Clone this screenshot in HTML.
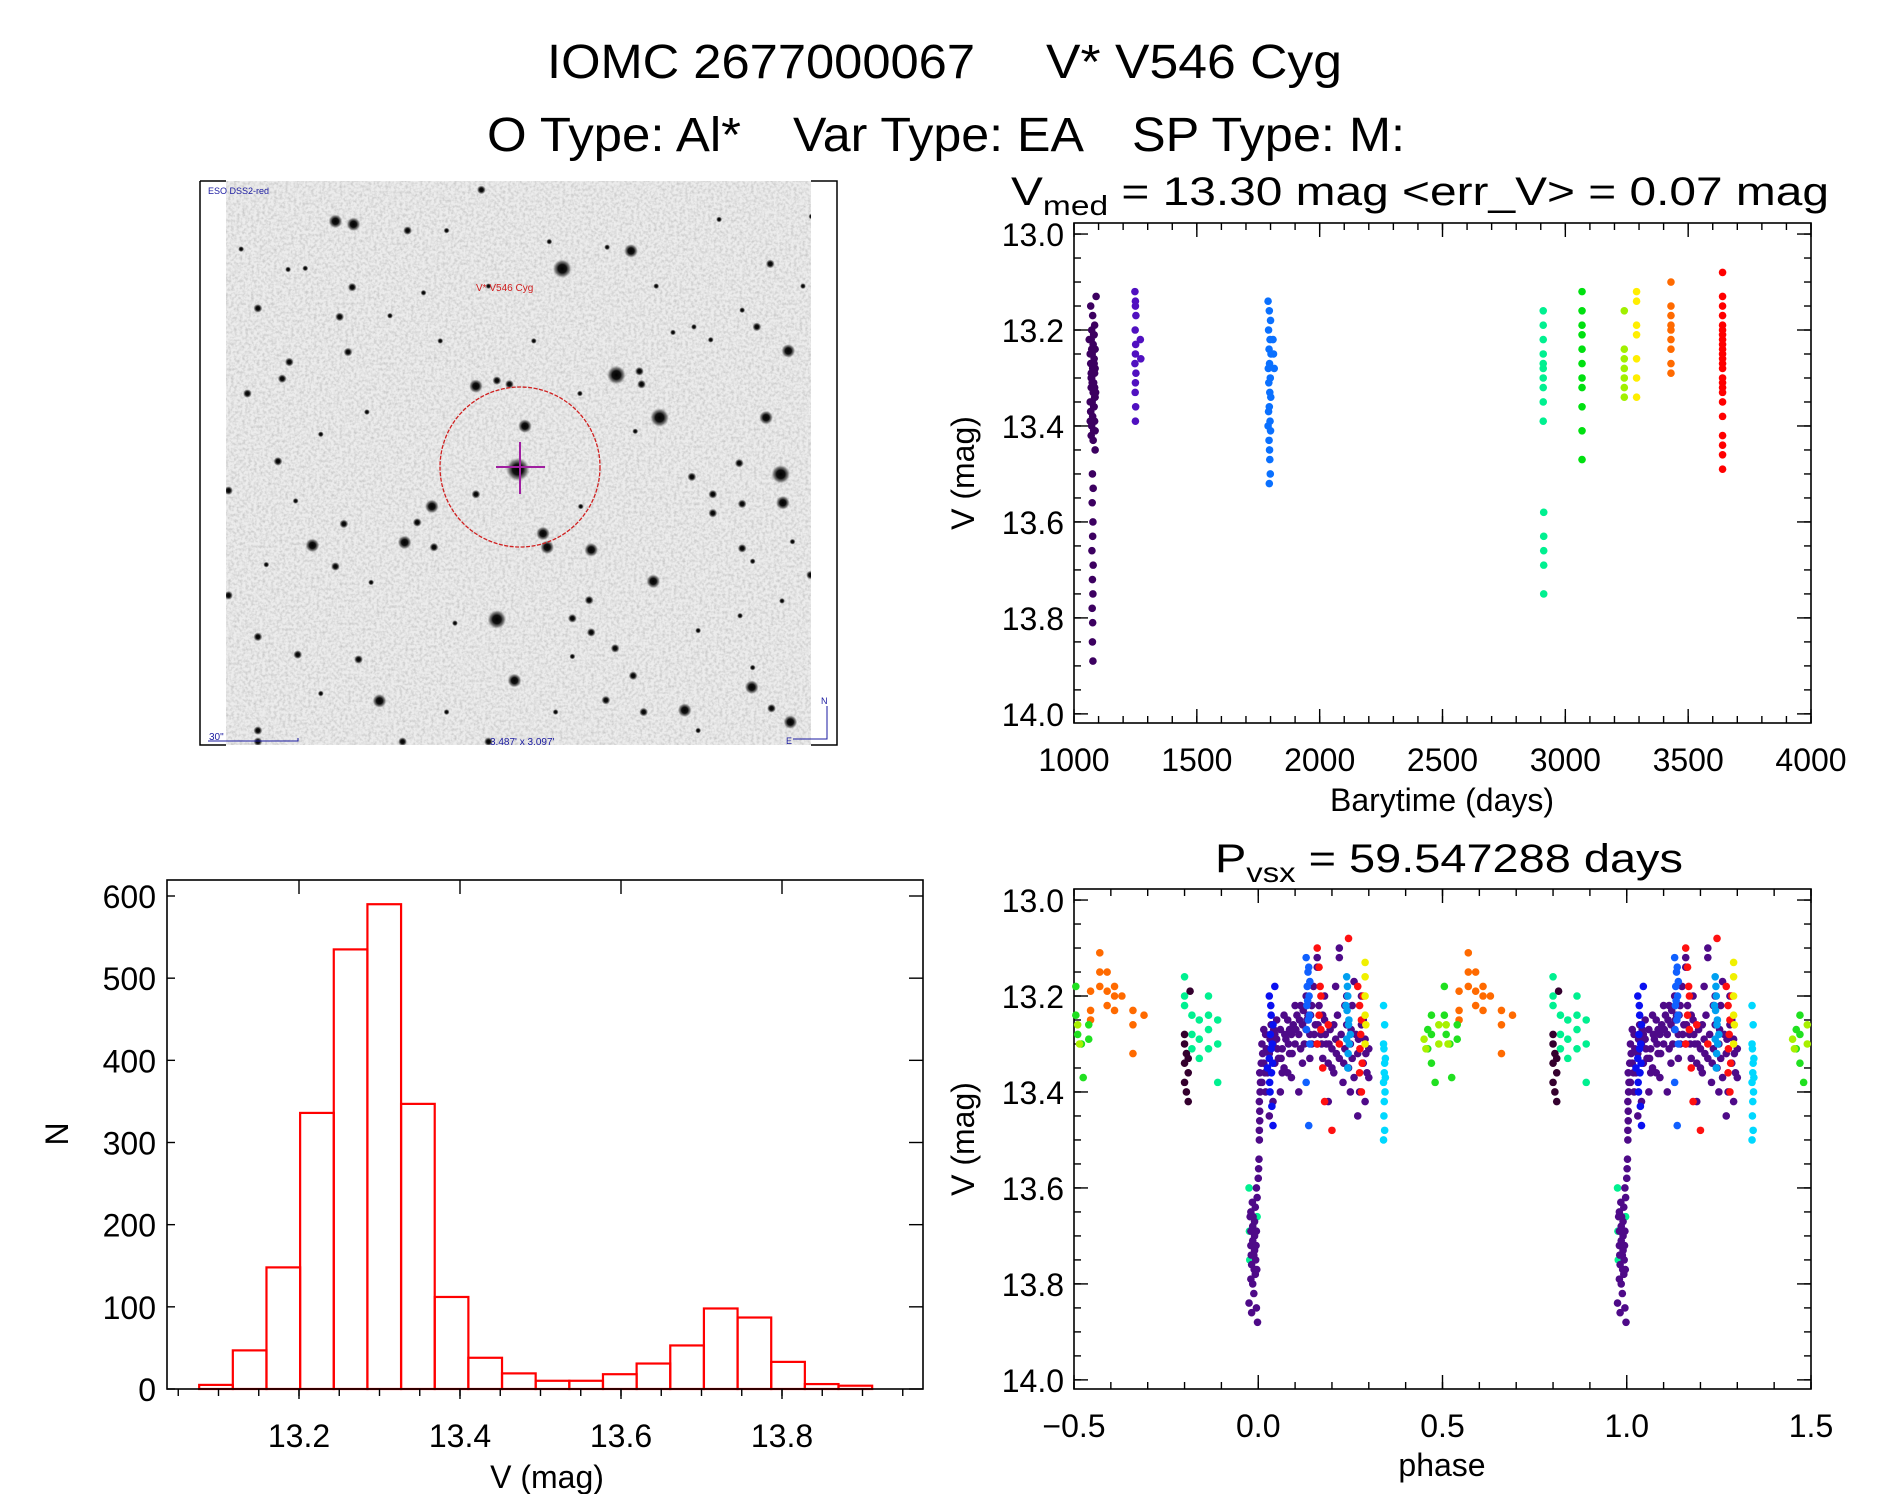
<!DOCTYPE html>
<html><head><meta charset="utf-8">
<style>
html,body{margin:0;padding:0;background:#fff;}
svg{display:block;font-family:"Liberation Sans",sans-serif;}
</style></head>
<body>
<svg id="root" width="1889" height="1494" viewBox="0 0 1889 1494" xmlns="http://www.w3.org/2000/svg">
<defs>
<filter id="noise" x="0" y="0" width="100%" height="100%">
<feTurbulence type="fractalNoise" baseFrequency="0.35" numOctaves="2" seed="4"/>
<feColorMatrix type="matrix" values="0 0 0 0 0  0 0 0 0 0  0 0 0 0 0  0 0 0 0.9 -0.35"/>
</filter>
<radialGradient id="star"><stop offset="0" stop-color="#000"/><stop offset="0.45" stop-color="#111"/><stop offset="0.75" stop-color="#555" stop-opacity="0.7"/><stop offset="1" stop-color="#999" stop-opacity="0"/></radialGradient>
<clipPath id="imgclip"><rect x="226" y="181" width="585" height="564"/></clipPath>
</defs>
<g font-size="48" fill="#000">
<text x="547" y="78" textLength="428" lengthAdjust="spacingAndGlyphs">IOMC 2677000067</text>
<text x="1046" y="78" textLength="296" lengthAdjust="spacingAndGlyphs">V* V546 Cyg</text>
<text x="487" y="151" textLength="254" lengthAdjust="spacingAndGlyphs">O Type: Al*</text>
<text x="793" y="151" textLength="291" lengthAdjust="spacingAndGlyphs">Var Type: EA</text>
<text x="1132" y="151" textLength="273" lengthAdjust="spacingAndGlyphs">SP Type: M:</text>
</g>
<g id="finder">
<rect x="226" y="181" width="585" height="564" fill="#ececec"/>
<rect x="226" y="181" width="585" height="564" filter="url(#noise)" opacity="0.35"/>
<g id="stars" clip-path="url(#imgclip)"></g>
<path d="M200 181 H226 M811 181 H837 V745 H811 M226 745 H200 V181" fill="none" stroke="#000" stroke-width="1.5"/>
<circle cx="520" cy="467" r="80" fill="none" stroke="#d02020" stroke-width="1.3" stroke-dasharray="4 1.5"/>
<path d="M496 467 H545 M520 442 V494" stroke="#a020a0" stroke-width="2"/>
<text x="208" y="194" font-size="9" fill="#1a1aa0">ESO DSS2-red</text>
<text x="476" y="291" font-size="10" fill="#d02020">V* V546 Cyg</text>
<text x="209" y="740" font-size="10" fill="#1a1aa0">30"</text>
<path d="M208 741 H298 V738" stroke="#1a1aa0" stroke-width="1" fill="none"/>
<text x="490" y="745" font-size="10" fill="#1a1aa0">3.487' x 3.097'</text>
<path d="M827 706 V739 H793" stroke="#1a1aa0" stroke-width="1" fill="none"/>
<text x="821" y="704" font-size="9" fill="#1a1aa0">N</text>
<text x="786" y="744" font-size="9" fill="#1a1aa0">E</text>
</g>
<g id="lc"></g>
<g id="ph"></g>
<g id="hist"></g>
</svg>
<script>
// ---------- light curve data (time vs magnitude), grouped by season ----------
const seasonColors = ["#3c0060","#5010c0","#0a70ff","#00f090","#00e010","#a0f000","#ffee00","#ff6a00","#ff0000"];
const s1T = [1068,1076,1084,1072,1080,1070,1078,1086,1074,1082,1068,1076,1084,1072,1080,1070,1078,1086,1074,1082,1068,1076,1084,1072,1080,1070,1078,1086,1074,1082,1075,1078,1074,1077,1076,1073,1078,1075,1077,1074,1076,1075,1077,1062,1066,1090,1088,1066,1086,1070,1084,1068,1082,1072,1080,1066,1086,1070,1084];
const s1M = [13.15,13.17,13.19,13.2,13.21,13.22,13.23,13.24,13.25,13.26,13.27,13.28,13.29,13.3,13.31,13.32,13.33,13.34,13.35,13.36,13.37,13.38,13.39,13.4,13.41,13.42,13.43,13.45,13.31,13.27,13.5,13.53,13.56,13.6,13.63,13.66,13.69,13.72,13.75,13.78,13.81,13.85,13.89,13.22,13.35,13.13,13.33,13.25,13.28,13.3,13.34,13.37,13.21,13.24,13.36,13.39,13.41,13.29,13.32];
const s2T = [1248,1250,1252,1249,1251,1250,1248,1252,1250,1249,1251,1250,1270,1272,1250];
const s2M = [13.12,13.14,13.17,13.2,13.23,13.25,13.27,13.29,13.31,13.33,13.36,13.39,13.22,13.26,13.15];
const s3T = [1790,1795,1800,1792,1798,1794,1802,1796,1791,1799,1793,1797,1801,1795,1792,1798,1790,1800,1794,1796,1812,1815,1810,1797,1799,1795];
const s3M = [13.14,13.16,13.18,13.2,13.22,13.24,13.25,13.27,13.28,13.3,13.31,13.33,13.34,13.36,13.37,13.39,13.4,13.41,13.43,13.45,13.25,13.28,13.22,13.47,13.5,13.52];
const s4T = [2910,2910,2910,2910,2910,2910,2910,2910,2910,2910,2912,2912,2912,2912,2912];
const s4M = [13.16,13.19,13.22,13.25,13.28,13.3,13.32,13.35,13.39,13.27,13.58,13.63,13.66,13.69,13.75];
const s5T = [3068,3068,3068,3068,3068,3068,3068,3068,3068,3068,3068];
const s5M = [13.12,13.16,13.19,13.21,13.24,13.27,13.3,13.32,13.36,13.41,13.47];
const s6T = [3240,3240,3240,3240,3240,3240,3240];
const s6M = [13.16,13.24,13.26,13.28,13.3,13.32,13.34];
const s7T = [3290,3290,3290,3290,3290,3290,3290];
const s7M = [13.12,13.14,13.19,13.21,13.26,13.3,13.34];
const s8T = [3430,3430,3430,3430,3430,3430,3430,3430,3430];
const s8M = [13.1,13.15,13.17,13.19,13.2,13.22,13.24,13.27,13.29];
const s9T = [3640,3640,3640,3640,3640,3640,3640,3640,3640,3640,3640,3640,3640,3640,3640,3640,3640,3640,3640,3640,3640,3640,3640,3640];
const s9M = [13.08,13.13,13.15,13.17,13.19,13.2,13.22,13.23,13.25,13.26,13.28,13.3,13.32,13.33,13.35,13.38,13.42,13.44,13.46,13.49,13.21,13.24,13.27,13.31];
const lcTicksX = [1000,1500,2000,2500,3000,3500,4000];
const magTicks = [13.0,13.2,13.4,13.6,13.8,14.0];

// ---------- phase-folded data (phase, magnitude) ----------
const phEclipse = [[-0.02,13.65],[-0.015,13.68],[-0.01,13.70],[-0.02,13.72],[-0.012,13.74],[-0.018,13.76],[-0.008,13.78],[-0.015,13.80],[-0.022,13.66],[-0.005,13.69],[-0.01,13.73],[-0.02,13.79],[-0.012,13.82],[-0.025,13.84],[-0.018,13.86],[-0.005,13.85],[-0.002,13.88],[-0.008,13.64],[-0.003,13.62],[-0.015,13.71],[-0.007,13.75],[-0.02,13.69],[-0.01,13.67],[-0.004,13.77],[0.0,13.58],[0.002,13.54],[0.003,13.50],[0.004,13.46],[0.003,13.42],[0.005,13.40],[0.001,13.56],[0.003,13.48],[-0.005,13.60],[0.004,13.44],[0.006,13.38],[0.004,13.36],[-0.016,13.63],[-0.006,13.72],[-0.019,13.74],[-0.011,13.77],[-0.014,13.66]];
const phPurple = [[0.01,13.30],[0.015,13.34],[0.02,13.28],[0.025,13.36],[0.03,13.32],[0.035,13.26],[0.04,13.30],[0.045,13.34],[0.05,13.29],[0.055,13.33],[0.06,13.27],[0.065,13.31],[0.07,13.35],[0.075,13.29],[0.08,13.25],[0.085,13.32],[0.09,13.28],[0.095,13.26],[0.10,13.30],[0.105,13.24],[0.11,13.28],[0.115,13.22],[0.12,13.26],[0.125,13.30],[0.13,13.20],[0.135,13.24],[0.14,13.28],[0.145,13.22],[0.15,13.18],[0.155,13.26],[0.16,13.30],[0.165,13.22],[0.17,13.28],[0.175,13.33],[0.18,13.25],[0.185,13.30],[0.19,13.34],[0.195,13.27],[0.20,13.31],[0.205,13.36],[0.21,13.29],[0.215,13.24],[0.22,13.33],[0.225,13.28],[0.23,13.38],[0.235,13.31],[0.24,13.26],[0.245,13.35],[0.25,13.30],[0.255,13.22],[0.26,13.37],[0.265,13.28],[0.27,13.32],[0.275,13.40],[0.28,13.26],[0.285,13.34],[0.29,13.29],[0.295,13.36],[0.30,13.31],[0.02,13.40],[0.04,13.42],[0.01,13.38],[0.06,13.40],[0.03,13.45],[0.09,13.37],[0.11,13.40],[0.16,13.12],[0.16,13.14],[0.2,13.35],[0.22,13.10],[0.22,13.12],[0.25,13.40],[0.27,13.45],[0.29,13.42],[0.30,13.37],[0.19,13.42],[0.14,13.33],[0.08,13.36],[0.12,13.34],[0.05,13.25],[0.07,13.24],[0.10,13.22],[0.13,13.27],[0.18,13.20],[0.21,13.18],[0.24,13.20],[0.26,13.17],[0.28,13.20],[0.235,13.22],[0.015,13.27],[0.045,13.28],[0.065,13.36],[0.085,13.27],[0.115,13.31],[0.145,13.30],[0.175,13.24],[0.205,13.26],[0.255,13.33],[0.285,13.25],[0.012,13.32],[0.022,13.31],[0.032,13.29],[0.042,13.27],[0.052,13.31],[0.062,13.33],[0.072,13.28],[0.082,13.30],[0.092,13.32],[0.102,13.27],[0.112,13.25],[0.122,13.23],[0.132,13.25],[0.142,13.24],[0.152,13.28],[0.162,13.26],[0.172,13.30],[0.182,13.28],[0.192,13.30],[0.212,13.32],[0.232,13.34],[0.252,13.27],[0.272,13.29],[0.292,13.32],[0.008,13.34],[0.018,13.36]];
const phBlue = [[0.03,13.2],[0.035,13.24],[0.033,13.28],[0.038,13.3],[0.03,13.33],[0.036,13.36],[0.04,13.26],[0.032,13.4],[0.037,13.43],[0.034,13.22],[0.039,13.34],[0.035,13.31],[0.031,13.38],[0.045,13.18],[0.025,13.35],[0.04,13.47]];
const phLightBlue = [[0.13,13.12],[0.135,13.15],[0.133,13.18],[0.138,13.2],[0.132,13.22],[0.136,13.25],[0.14,13.17],[0.131,13.27],[0.137,13.14],[0.134,13.21],[0.139,13.24],[0.14,13.3],[0.13,13.38],[0.137,13.47]];
const phSky = [[0.24,13.16],[0.243,13.2],[0.241,13.23],[0.245,13.26],[0.24,13.29],[0.244,13.32],[0.242,13.18],[0.246,13.25],[0.243,13.35],[0.247,13.3],[0.25,13.28],[0.238,13.22]];
const phRed = [[0.16,13.1],[0.165,13.14],[0.168,13.18],[0.17,13.2],[0.165,13.24],[0.17,13.27],[0.16,13.3],[0.175,13.35],[0.18,13.42],[0.27,13.18],[0.275,13.22],[0.28,13.25],[0.278,13.28],[0.276,13.31],[0.282,13.34],[0.275,13.36],[0.285,13.2],[0.28,13.4],[0.245,13.08],[0.2,13.48],[0.22,13.3],[0.19,13.26]];
const phYellow = [[0.29,13.13],[0.29,13.16],[0.29,13.2],[0.29,13.24],[0.292,13.26],[0.29,13.3]];
const phCyan = [[0.34,13.22],[0.343,13.26],[0.34,13.3],[0.345,13.33],[0.342,13.36],[0.34,13.38],[0.344,13.4],[0.342,13.42],[0.341,13.45],[0.343,13.48],[0.34,13.5],[0.345,13.37],[0.343,13.34],[0.341,13.31]];
const phSpring = [[-0.2,13.16],[-0.2,13.2],[-0.2,13.22],[-0.18,13.24],[-0.18,13.28],[-0.18,13.31],[-0.16,13.25],[-0.16,13.29],[-0.16,13.33],[-0.135,13.2],[-0.135,13.24],[-0.135,13.27],[-0.135,13.31],[-0.11,13.25],[-0.11,13.3],[-0.11,13.38],[-0.025,13.6],[-0.003,13.66],[-0.024,13.69],[-0.023,13.75]];
const phDark = [[-0.2,13.3],[-0.195,13.32],[-0.2,13.34],[-0.19,13.36],[-0.2,13.38],[-0.195,13.4],[-0.19,13.42],[-0.2,13.28],[-0.185,13.19],[-0.19,13.33]];
const phOrange = [[-0.43,13.11],[-0.43,13.15],[-0.43,13.18],[-0.41,13.15],[-0.41,13.19],[-0.41,13.22],[-0.39,13.18],[-0.39,13.2],[-0.39,13.23],[-0.455,13.19],[-0.455,13.23],[-0.455,13.25],[-0.37,13.2],[-0.34,13.23],[-0.34,13.26],[-0.34,13.32],[-0.31,13.24]];
const phGreen = [[-0.495,13.18],[-0.495,13.24],[-0.49,13.28],[-0.48,13.3],[-0.475,13.37],[-0.46,13.26],[-0.46,13.29],[0.46,13.27],[0.46,13.31],[0.47,13.24],[0.47,13.28],[0.47,13.34],[0.48,13.38]];
const phLime = [[-0.49,13.26],[-0.485,13.3],[0.45,13.29],[0.455,13.31],[0.49,13.26],[0.49,13.3]];
const phTicksX = [-0.5,0.0,0.5,1.0,1.5];
const phTickLabels = ["\u22120.5","0.0","0.5","1.0","1.5"];

// ---------- histogram data ----------
const histStart = 13.076;
const histWidth = 0.0418;
const histCounts = [5,47,148,336,535,590,347,112,38,19,10,10,18,31,53,98,87,33,6,4];
const histTicksX = [13.2,13.4,13.6,13.8];
const histTicksY = [0,100,200,300,400,500,600];

const NS="http://www.w3.org/2000/svg";
function mk(tag,attrs,parent){const e=document.createElementNS(NS,tag);for(const k in attrs)e.setAttribute(k,attrs[k]);parent.appendChild(e);return e;}

const L=1074,R=1811;
const lcT=223,lcB=723,phT=889,phB=1389;
const magLo=12.977,magHi=14.019;
const xT=t=>L+(t-1000)/3000*(R-L);
const yLC=m=>lcT+(m-magLo)/(magHi-magLo)*(lcB-lcT);
const xP=p=>L+(p+0.5)/2*(R-L);
const yPH=m=>phT+(m-magLo)/(magHi-magLo)*(phB-phT);

function frame(g,x0,y0,x1,y1){mk('rect',{x:x0,y:y0,width:x1-x0,height:y1-y0,fill:'none',stroke:'#000','stroke-width':1.6},g);}
function ticksY(g,x0,x1,yf,lo,hi,step,len){for(let v=lo;v<=hi+1e-9;v+=step){const y=yf(v);mk('line',{x1:x0,y1:y,x2:x0+len,y2:y,stroke:'#000','stroke-width':1.4},g);mk('line',{x1:x1,y1:y,x2:x1-len,y2:y,stroke:'#000','stroke-width':1.4},g);}}
function ticksX(g,y0,y1,xf,lo,hi,step,len){for(let v=lo;v<=hi+1e-9;v+=step){const x=xf(v);mk('line',{x1:x,y1:y1,x2:x,y2:y1-len,stroke:'#000','stroke-width':1.4},g);mk('line',{x1:x,y1:y0,x2:x,y2:y0+len,stroke:'#000','stroke-width':1.4},g);}}
function dots(g,pts,color,xf,yf,r){for(const p of pts){const c=mk('circle',{cx:xf(p[0]),cy:yf(p[1]),r:r,fill:color},g);

}}

// ---- light curve ----
const lc=document.getElementById('lc');
frame(lc,L,lcT,R,lcB);
ticksY(lc,L,R,yLC,13.0,14.0,0.05,7);ticksY(lc,L,R,yLC,13.0,14.0,0.2,14);
ticksX(lc,lcT,lcB,xT,1000,4000,100,7);ticksX(lc,lcT,lcB,xT,1000,4000,500,14);
const seasonsT=[s1T,s2T,s3T,s4T,s5T,s6T,s7T,s8T,s9T],seasonsM=[s1M,s2M,s3M,s4M,s5M,s6M,s7M,s8M,s9M];
for(let i=0;i<seasonsT.length;i++){const pts=seasonsT[i].map((t,j)=>[t,seasonsM[i][j]]);
dots(lc,pts,seasonColors[i],xT,yLC,3.8);}
for(const m of magTicks){const t=mk('text',{x:1064,y:yLC(m)+12,'font-size':32,'text-anchor':'end'},lc);t.textContent=m.toFixed(1);

}
for(const v of lcTicksX){const t=mk('text',{x:xT(v),y:771,'font-size':32,'text-anchor':'middle'},lc);t.textContent=v;

}
{let t=mk('text',{x:1442,y:811,'font-size':32,'text-anchor':'middle'},lc);t.textContent='Barytime (days)';


t=mk('text',{x:0,y:0,'font-size':32,'text-anchor':'middle',transform:'translate(974,473) rotate(-90)'},lc);t.textContent='V (mag)';


t=mk('text',{x:1011,y:205,'font-size':40,textLength:818,lengthAdjust:'spacingAndGlyphs'},lc);
t.innerHTML='V<tspan font-size="28" dy="10">med</tspan><tspan dy="-10"> = 13.30 mag &lt;err_V&gt; = 0.07 mag</tspan>';

}

// ---- phase plot ----
const ph=document.getElementById('ph');
frame(ph,L,phT,R,phB);
ticksY(ph,L,R,yPH,13.0,14.0,0.05,7);ticksY(ph,L,R,yPH,13.0,14.0,0.2,14);
ticksX(ph,phT,phB,xP,-0.5,1.5,0.1,7);ticksX(ph,phT,phB,xP,-0.5,1.5,0.5,14);
const phSeries=[[phOrange,"#ff6a00"],[phGreen,"#20e020"],[phLime,"#a8f000"],[phSpring,"#00f090"],[phDark,"#34002e"],[phPurple,"#4e0a88"],[phEclipse,"#4e0a88"],[phBlue,"#0a10f0"],[phLightBlue,"#1060ff"],[phRed,"#ff1010"],[phSky,"#00a0f0"],[phYellow,"#f0f000"],[phCyan,"#00d8ff"]];
for(const [arr,col] of phSeries){const pts=[];for(const p of arr){pts.push(p);pts.push([p[0]+1,p[1]]);}
dots(ph,pts.filter(p=>p[0]>=-0.5&&p[0]<=1.5),col,xP,yPH,3.8);}
for(const m of magTicks){const t=mk('text',{x:1064,y:yPH(m)+12,'font-size':32,'text-anchor':'end'},ph);t.textContent=m.toFixed(1);

}
phTicksX.forEach((v,i)=>{const t=mk('text',{x:xP(v),y:1437,'font-size':32,'text-anchor':'middle'},ph);t.textContent=phTickLabels[i];

});
{let t=mk('text',{x:1442,y:1476,'font-size':32,'text-anchor':'middle'},ph);t.textContent='phase';


t=mk('text',{x:0,y:0,'font-size':32,'text-anchor':'middle',transform:'translate(974,1139) rotate(-90)'},ph);t.textContent='V (mag)';


t=mk('text',{x:1215,y:872,'font-size':40,textLength:468,lengthAdjust:'spacingAndGlyphs'},ph);
t.innerHTML='P<tspan font-size="28" dy="10">vsx</tspan><tspan dy="-10"> = 59.547288 days</tspan>';

}

// ---- histogram ----
const hg=document.getElementById('hist');
const HL=167,HR=923,HT=880,HB=1389;
const xH=v=>299+(v-13.2)/0.6*(782-299);
const yH=n=>HB-n*(HB-896)/600;
histCounts.forEach((n,i)=>{const x0=xH(histStart+i*histWidth),x1=xH(histStart+(i+1)*histWidth);
const r=mk('rect',{x:x0,y:yH(n),width:x1-x0,height:HB-yH(n),fill:'none',stroke:'#ff0000','stroke-width':2.2},hg);

});
frame(hg,HL,HT,HR,HB);
for(const v of histTicksY){const y=yH(v);mk('line',{x1:HR,y1:y,x2:HR-14,y2:y,stroke:'#000','stroke-width':1.4},hg);mk('line',{x1:HL,y1:y,x2:HL+8,y2:y,stroke:'#000','stroke-width':1.4},hg);
const t=mk('text',{x:156,y:y+12,'font-size':32,'text-anchor':'end'},hg);t.textContent=v;

}
for(let v=13.05;v<=13.96;v+=0.05){const x=xH(v);mk('line',{x1:x,y1:HB,x2:x,y2:HB+7,stroke:'#000','stroke-width':1.4},hg);}
for(let v=13.0;v<=14.0;v+=0.2){const x=xH(v);if(x<HL||x>HR)continue;mk('line',{x1:x,y1:HT,x2:x,y2:HT+14,stroke:'#000','stroke-width':1.4},hg);mk('line',{x1:x,y1:HB,x2:x,y2:HB+10,stroke:'#000','stroke-width':1.4},hg);}
for(const v of histTicksX){const t=mk('text',{x:xH(v),y:1447,'font-size':32,'text-anchor':'middle'},hg);t.textContent=v.toFixed(1);

}
{let t=mk('text',{x:547,y:1488,'font-size':32,'text-anchor':'middle'},hg);t.textContent='V (mag)';


t=mk('text',{x:0,y:0,'font-size':32,'text-anchor':'middle',transform:'translate(68,1134) rotate(-90)'},hg);t.textContent='N';

}

// ---- finder chart stars ----
const starZ=[[335,125,2],[378,133,2],[876,253,3],[1040,205,2],[1372,240,1],[150,360,1],[507,150,1],[1415,475,2],[1005,540,3],[1060,530,1],[1065,565,1],[1108,655,3],[1362,655,2],[670,570,2],[750,565,1],[720,555,1],[787,678,2],[770,795,4],[565,895,2],[670,862,1],[1397,808,3],[1402,885,2],[1235,862,1],[1235,913,1],[1185,815,1],[1298,778,1],[1305,888,1],[280,1000,2],[355,942,1],[500,992,2],[570,1005,1],[830,968,2],[840,1005,2],[945,1012,2],[1093,1097,2],[940,1148,1],[720,1200,3],[900,1197,1],[945,1235,1],[1002,1278,1],[245,1295,1],[390,1308,1],[440,1420,2],[762,1365,2],[1045,1352,1],[980,1418,1],[1328,1383,2],[1168,1445,2],[1420,1477,2],[1375,1440,1],[1070,1450,1],[495,1530,1],[150,1500,1],[225,505,1],[208,550,1],[125,590,1],[198,773,1],[335,1057,1],[150,1247,1],[170,1052,0],[365,478,1],[345,383,1],[375,303,1],[222,255,0],[263,252,0],[683,40,1],[1305,1008,1],[1330,1043,0],[1340,410,1],[1305,365,0],[1050,692,0],[918,590,0],[1468,1080,1],[80,1135,1],[80,852,1],[585,448,0],[808,448,0],[1190,410,0],[1140,425,0],[1470,112,0],[920,895,0],[1425,990,0],[530,938,1],[465,380,0],[545,318,0],[845,180,0],[983,195,0],[1230,445,0],[1330,1330,0],[1300,1190,0],[700,1530,1],[150,1530,1],[410,640,0],[300,700,0],[240,880,0],[420,1100,0],[620,1210,0],[900,1300,0],[1200,1230,0],[1400,1150,0],[1100,300,0],[700,300,0],[600,150,0],[1250,120,0],[1450,300,0],[110,200,0],[300,1400,0],[600,1450,0],[860,1450,0],[1200,1500,0]];
const radii=[3,4.5,7,9.5,12];
const sg=document.getElementById('stars');
for(const s of starZ){const c=mk('circle',{cx:195+s[0]/2.385,cy:175+s[1]/2.7,r:radii[s[2]],fill:'url(#star)'},sg);

}
</script>
</body></html>
